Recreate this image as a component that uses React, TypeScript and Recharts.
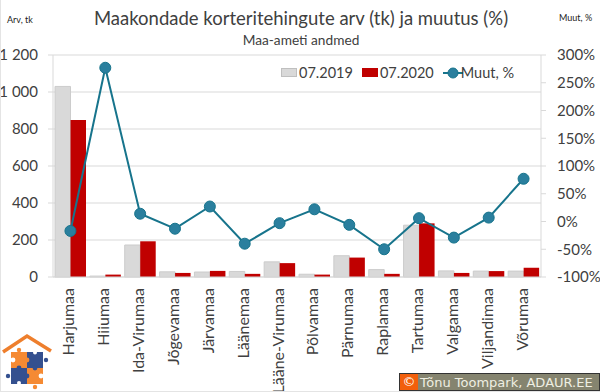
import React from 'react';
import { ComposedChart, Bar, Line, XAxis, YAxis, CartesianGrid, Legend } from 'recharts';

const counties = ['Harjumaa', 'Hiiumaa', 'Ida-Virumaa', 'Jõgevamaa', 'Järvamaa', 'Läänemaa', 'Lääne-Virumaa', 'Põlvamaa', 'Pärnumaa', 'Raplamaa', 'Tartumaa', 'Valgamaa', 'Viljandimaa', 'Võrumaa'];
const values2019 = [1030, 5, 173, 28, 27, 30, 82, 15, 115, 40, 280, 33, 32, 32];
const values2020 = [848, 13, 193, 22, 33, 17, 75, 13, 105, 17, 290, 22, 32, 50];
const change = [-17, 277, 14, -13, 27, -40, -3, 22, -6, -50, 6, -29, 7, 77];
const leftTicks = [0, 200, 400, 600, 800, 1000, 1200];
const rightTicks = [-100, -50, 0, 50, 100, 150, 200, 250, 300];

const data = counties.map((name, i) => ({
  name,
  y2019: values2019[i],
  y2020: values2020[i],
  muut: change[i],
}));

const FONT = 'Lato, "Open Sans", sans-serif';
const TEXT = '#404040';
const GRID = '#d9d9d9';
const TEAL = '#17748c';

const CountyTick = ({ x, y, payload }: any) => (
  <text
    x={0}
    y={0}
    transform={`translate(${x},${y + 3}) rotate(-90)`}
    textAnchor="end"
    dominantBaseline="middle"
    fontSize={16}
    fontFamily={FONT}
    fill={TEXT}
  >
    {payload.value}
  </text>
);

const LegendBox = ({ payload }: any) => (
  <div style={{ display: 'flex', alignItems: 'center', fontFamily: FONT, fontSize: 14.5, color: TEXT, whiteSpace: 'nowrap' }}>
    {payload.map((entry: any) =>
      entry.type === 'line' ? (
        <span key={entry.value} style={{ display: 'flex', alignItems: 'center' }}>
          <svg width={20} height={14} style={{ marginRight: -2 }}>
            <line x1={0} x2={20} y1={7} y2={7} stroke={TEAL} strokeWidth={2} />
            <circle cx={10} cy={7} r={5} fill="#2a7f9e" stroke={TEAL} />
          </svg>
          {entry.value}
        </span>
      ) : (
        <span key={entry.value} style={{ display: 'flex', alignItems: 'center', marginRight: 9 }}>
          <span style={{ width: 16, height: 9, background: entry.color, border: entry.value === '07.2019' ? '1px solid #bfbfbf' : 'none', boxSizing: 'border-box', marginRight: 2 }} />
          {entry.value}
        </span>
      )
    )}
  </div>
);

const Logo = () => (
  <svg width={52} height={58} viewBox="0 0 52 58" style={{ position: 'absolute', left: 1, top: 333 }}>
    <path d="M1 19 L25 3 L49 18" fill="none" stroke="#ee7f2d" strokeWidth={3.5} />
    <rect x={9} y={19} width={16} height={16} fill="#f58a33" />
    <rect x={25} y={19} width={16} height={16} fill="#34508f" />
    <rect x={9} y={35} width={16} height={16} fill="#34508f" />
    <rect x={25} y={35} width={16} height={16} fill="#f58a33" />
    <circle cx={17} cy={17} r={2.2} fill="#f58a33" />
    <circle cx={44} cy={27} r={2.2} fill="#34508f" />
    <circle cx={6} cy={43} r={2.2} fill="#34508f" />
    <circle cx={33} cy={54} r={2.2} fill="#f58a33" />
    <circle cx={25} cy={27} r={2.4} fill="#f58a33" />
    <circle cx={17} cy={35} r={2.4} fill="#34508f" />
    <circle cx={33} cy={35} r={2.4} fill="#34508f" />
    <circle cx={25} cy={43} r={2.4} fill="#34508f" />
    <circle cx={11} cy={27} r={2.4} fill="#fff" />
    <circle cx={33} cy={19.5} r={2} fill="#fff" />
    <circle cx={39} cy={43} r={2.4} fill="#fff" />
    <circle cx={17} cy={50} r={2} fill="#fff" />
  </svg>
);

export default function App() {
  return (
    <div style={{ position: 'absolute', left: 0, top: 0, width: 600, height: 392, background: '#fff', overflow: 'hidden', fontFamily: FONT, boxSizing: 'border-box', borderLeft: '1px solid #e4e4e4', borderBottom: '1px solid #e4e4e4' }}>
      <div style={{ position: 'absolute', left: -1, top: 0 }}>
        <ComposedChart width={600} height={392} data={data} margin={{ top: 55, right: 0, bottom: 0, left: 0 }} barGap={0} barSize={15.5}>
          <CartesianGrid vertical={false} stroke={GRID} yAxisId="left" />
          <XAxis dataKey="name" interval={0} tick={<CountyTick />} tickLine={false} axisLine={{ stroke: GRID }} height={115} />
          <YAxis
            yAxisId="left"
            width={53}
            domain={[0, 1200]}
            ticks={leftTicks}
            interval={0}
            tickFormatter={(v: number) => (v >= 1000 ? `${Math.floor(v / 1000)} ${String(v % 1000).padStart(3, '0')}` : String(v))}
            tick={{ fontSize: 15, fontFamily: FONT, fill: TEXT }}
            tickLine={{ stroke: GRID }}
            axisLine={{ stroke: GRID }}
            tickSize={5}
            tickMargin={10}
          />
          <YAxis
            yAxisId="right"
            orientation="right"
            width={59}
            domain={[-100, 300]}
            ticks={rightTicks}
            interval={0}
            tickFormatter={(v: number) => `${v}%`}
            tick={{ fontSize: 15, fontFamily: FONT, fill: TEXT, textAnchor: 'start' }}
            tickLine={{ stroke: GRID }}
            axisLine={{ stroke: GRID }}
            tickSize={5}
            tickMargin={11}
          />
          <Legend layout="horizontal" verticalAlign="middle" content={<LegendBox />} wrapperStyle={{ position: 'absolute', left: 281, top: 64, width: 'auto' }} />
          <Bar yAxisId="left" dataKey="y2019" name="07.2019" fill="#d9d9d9" stroke="#cccccc" isAnimationActive={false} />
          <Bar yAxisId="left" dataKey="y2020" name="07.2020" fill="#c00000" isAnimationActive={false} />
          <Line
            yAxisId="right"
            dataKey="muut"
            name="Muut, %"
            type="linear"
            stroke={TEAL}
            strokeWidth={2}
            dot={{ r: 5.5, fill: '#2a7f9e', stroke: TEAL, strokeWidth: 1 }}
            isAnimationActive={false}
          />
        </ComposedChart>
      </div>

      <div style={{ position: 'absolute', left: 0, width: 600, top: 7, textAlign: 'center', fontSize: 18.5, color: TEXT, whiteSpace: 'nowrap' }}>
        Maakondade korteritehingute arv (tk) ja muutus (%)
      </div>
      <div style={{ position: 'absolute', left: 0, width: 600, top: 31, textAlign: 'center', fontSize: 13.7, color: TEXT, whiteSpace: 'nowrap' }}>
        Maa-ameti andmed
      </div>
      <div style={{ position: 'absolute', left: 6, top: 14, fontSize: 9, color: '#222' }}>Arv, tk</div>
      <div style={{ position: 'absolute', left: 558, top: 12, fontSize: 9, color: '#222' }}>Muut, %</div>

      <Logo />

      <div style={{ position: 'absolute', left: 398, top: 373, width: 201, height: 18, boxSizing: 'border-box', border: '1px solid #333', background: '#85846f', display: 'flex', alignItems: 'center', color: '#efefe2', fontFamily: '"DejaVu Sans", sans-serif', fontSize: 13, whiteSpace: 'nowrap' }}>
        <span style={{ width: 18, height: 16, background: '#f25f0c', color: '#fff', textAlign: 'center', lineHeight: '16px', marginRight: 2, flex: 'none' }}>©</span>
        Tõnu Toompark, ADAUR.EE
      </div>
    </div>
  );
}
